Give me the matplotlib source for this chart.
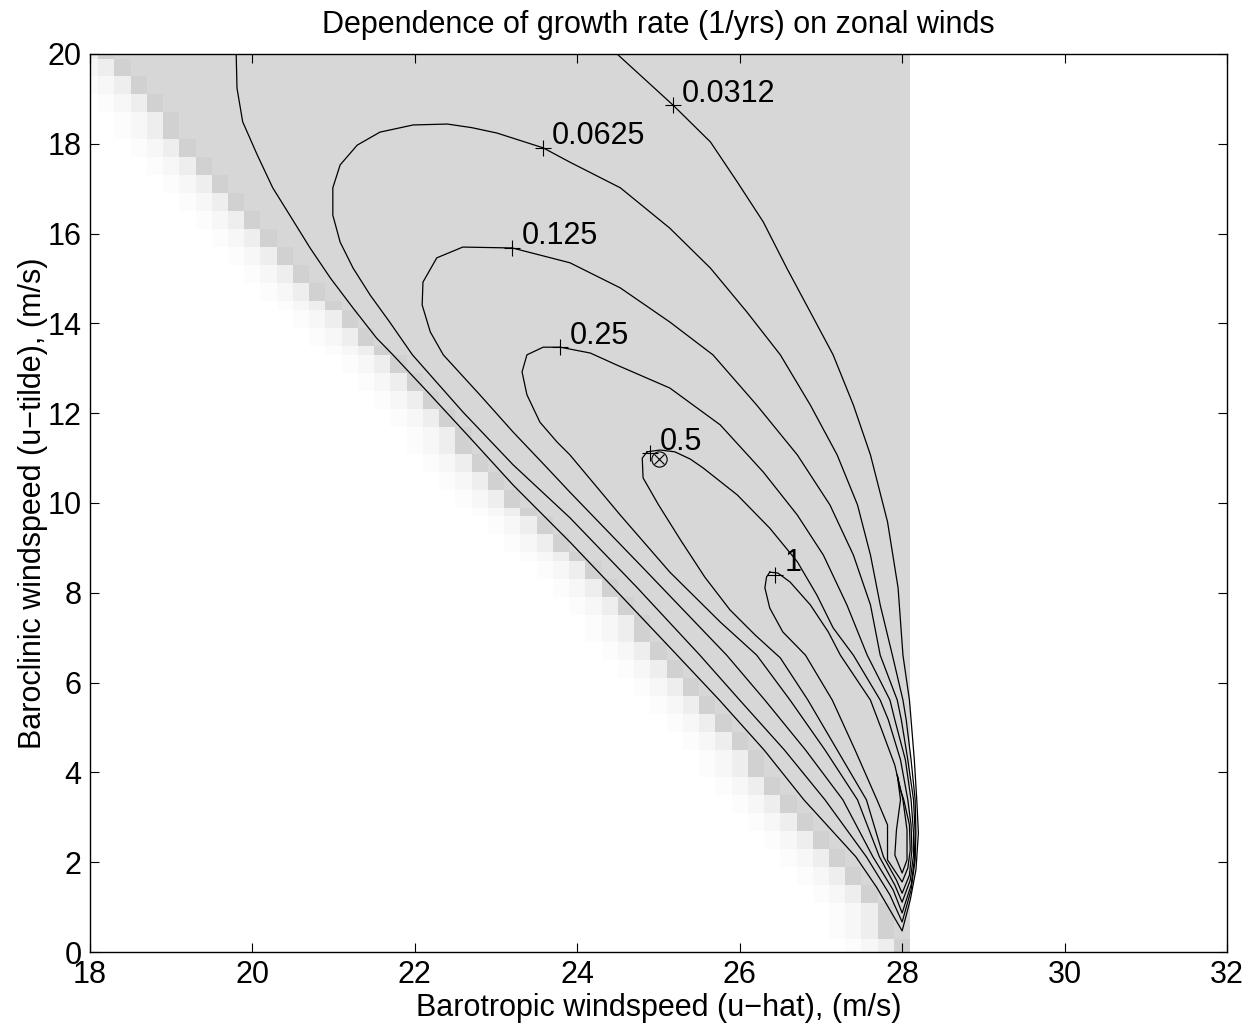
import numpy as np
import matplotlib.pyplot as plt

plt.rcParams['font.family'] = ['Liberation Sans', 'DejaVu Sans']

# contour levels (growth rate, 1/yrs) and their traced paths (u-hat, u-tilde)
levels = ['0.0312', '0.0625', '0.125', '0.25', '0.5', '1']

c0312_x = [19.80, 19.81, 19.88, 20.06, 20.25, 20.46, 20.71, 20.96, 21.24, 21.53, 21.73,
           22.19, 22.68, 23.21, 23.91, 24.53, 25.23, 25.75, 26.30, 26.79, 27.43, 27.69,
           28.00, 28.10, 28.17, 28.20, 28.18, 28.15, 28.11, 28.09, 28.01, 27.95, 27.82,
           27.61, 27.40, 27.15, 26.87, 26.58, 26.29, 25.97, 25.64, 25.18, 24.49]
c0312_y = [20.0, 19.24, 18.49, 17.75, 17.02, 16.41, 15.68, 15.01, 14.34, 13.67, 13.30,
           12.41, 11.45, 10.40, 9.13, 7.95, 6.61, 5.61, 4.50, 3.39, 2.12, 1.43,
           0.47, 1.16, 1.83, 2.65, 3.39, 4.28, 5.17, 5.61, 6.61, 8.11, 9.58,
           11.07, 12.18, 13.30, 14.25, 15.23, 16.26, 17.15, 18.04, 18.86, 20.0]

c0625_x = [23.58, 23.01, 22.70, 22.40, 21.98, 21.57, 21.29, 21.08, 20.99, 20.99, 21.08, 21.24,
           21.45, 21.69, 21.97, 22.59, 23.21, 23.91, 24.74, 25.51, 26.00, 26.55, 27.05,
           27.56, 27.85, 28.00, 28.11, 28.16, 28.17, 28.16, 28.11, 28.05, 28.01, 27.88,
           27.73, 27.61, 27.45, 27.20, 26.87, 26.50, 26.09, 25.64, 25.14, 24.53, 23.91, 23.58]
c0625_y = [17.91, 18.24, 18.36, 18.44, 18.42, 18.26, 17.97, 17.53, 17.02, 16.41, 15.81, 15.23,
           14.63, 14.03, 13.30, 12.03, 10.85, 9.67, 8.11, 6.61, 5.61, 4.50, 3.39,
           2.12, 1.27, 0.67, 1.38, 2.05, 2.65, 3.39, 4.28, 5.17, 5.61, 6.61,
           7.73, 8.84, 9.96, 11.07, 12.18, 13.30, 14.25, 15.23, 16.12, 17.02, 17.59, 17.91]

c125_x = [23.20, 22.59, 22.27, 22.10, 22.09, 22.19, 22.35, 22.80, 23.21, 23.63, 23.91,
          24.86, 25.84, 26.31, 26.81, 27.27, 27.64, 27.89, 28.00, 28.11, 28.15, 28.16,
          28.14, 28.07, 27.99, 27.94, 27.73, 27.61, 27.40, 27.11, 26.71, 26.21, 25.67,
          25.14, 24.53, 23.91, 23.20]
c125_y = [15.68, 15.70, 15.46, 14.92, 14.41, 13.81, 13.30, 12.41, 11.58, 10.78, 10.24,
          8.46, 6.61, 5.61, 4.50, 3.39, 2.12, 1.38, 0.87, 1.49, 2.05, 2.65,
          3.39, 4.28, 5.17, 5.61, 6.61, 7.73, 8.84, 9.96, 11.07, 12.18, 13.30,
          14.03, 14.79, 15.35, 15.68]

c25_x = [23.79, 23.58, 23.38, 23.32, 23.38, 23.54, 23.75, 23.91, 24.53, 25.14, 25.76,
         26.21, 26.62, 27.05, 27.45, 27.72, 27.91, 28.00, 28.10, 28.14, 28.14, 28.11,
         28.04, 27.91, 27.85, 27.57, 27.32, 27.03, 26.71, 26.29, 25.76, 25.14, 24.49,
         24.16, 23.79]
c25_y = [13.47, 13.47, 13.30, 12.92, 12.41, 11.80, 11.36, 11.07, 9.73, 8.46, 7.35,
         6.61, 5.61, 4.50, 3.39, 2.12, 1.49, 1.11, 1.60, 2.16, 2.65, 3.39,
         4.28, 5.17, 5.61, 6.61, 7.73, 8.84, 9.73, 10.69, 11.74, 12.56, 13.07,
         13.34, 13.47]

c5_x = [24.86, 24.80, 24.81, 25.00, 25.27, 25.57, 25.88, 26.19, 26.50, 26.84, 27.20,
        27.56, 27.77, 27.93, 28.00, 28.09, 28.12, 28.11, 28.07, 27.98, 27.83, 27.73,
        27.40, 27.15, 26.95, 26.71, 26.37, 25.97, 25.55, 25.39, 25.20, 25.02, 24.86]
c5_y = [11.14, 11.00, 10.56, 9.96, 9.18, 8.35, 7.62, 7.06, 6.55, 5.61, 4.50,
        3.39, 2.12, 1.60, 1.31, 1.71, 2.27, 2.83, 3.39, 4.28, 5.17, 5.61,
        6.61, 7.22, 7.95, 8.69, 9.44, 10.18, 10.78, 10.98, 11.14, 11.18, 11.14]

c1_x = [26.37, 26.33, 26.31, 26.37, 26.53, 26.81, 27.14, 27.42, 27.69, 27.82, 27.82,
        28.00, 28.07, 28.10, 28.09, 28.02, 27.98, 27.91, 27.75, 27.61, 27.24, 27.09,
        26.87, 26.62, 26.47, 26.37]
c1_y = [8.46, 8.35, 8.11, 7.66, 7.13, 6.61, 5.61, 4.50, 3.39, 2.83, 2.05,
        1.56, 1.87, 2.27, 2.83, 3.39, 3.61, 4.16, 4.94, 5.61, 6.61, 7.13,
        7.73, 8.24, 8.44, 8.46]

# unlabelled innermost piece near the bottom
c2_x = [27.94, 27.98, 27.93, 27.91, 28.00, 28.06, 28.06, 28.01, 27.94]
c2_y = [3.94, 3.39, 2.72, 2.16, 1.76, 2.05, 2.72, 3.39, 3.94]

# label points on each contour
label_x = [25.18, 23.58, 23.20, 23.79, 24.90, 26.44]
label_y = [18.86, 17.91, 15.68, 13.47, 11.11, 8.40]

# maximum marker
max_x, max_y = 25.0, 10.98

# left edge of the unstable (shaded) region, and its right cut-off
edge_y = [20.0, 19.0, 17.9, 17.2, 16.4, 15.6, 14.7, 14.1, 13.4, 12.3, 11.4, 10.6,
          9.8, 9.1, 7.8, 6.7, 5.6, 4.8, 3.7, 2.9, 2.2, 1.4, 0.7, 0.0]
edge_x = [18.1, 18.7, 19.1, 19.5, 19.9, 20.3, 20.7, 21.1, 21.5, 22.1, 22.5, 22.9,
          23.3, 23.7, 24.5, 24.9, 25.5, 25.9, 26.3, 26.7, 27.1, 27.5, 27.7, 27.9]
right_cut = 28.1

grid_x = np.round(np.arange(18, 32.001, 0.2), 2)
grid_y = np.round(np.arange(0, 20.001, 0.2), 2)

gray_in = 0.84
gray_edge = 0.82
fringe = [0.93, 0.965, 0.985]

img = np.ones((len(grid_y), len(grid_x)))
for j, yy in enumerate(grid_y):
    e = np.interp(yy, edge_y[::-1], edge_x[::-1])
    inside = (grid_x >= e - 1e-9) & (grid_x < right_cut)
    if not inside.any():
        continue
    img[j, inside] = gray_in
    first = np.argmax(inside)
    img[j, first] = gray_edge
    for k, s in enumerate(fringe):
        if first - 1 - k >= 0:
            img[j, first - 1 - k] = s

fig = plt.figure(figsize=(12.55, 10.32), dpi=100)
ax = fig.add_axes([90/1255, 1 - 952/1032, (1227 - 90)/1255, (952 - 54)/1032])

ax.imshow(img, cmap='gray', vmin=0, vmax=1, origin='lower', interpolation='nearest',
          extent=[17.9, 32.1, -0.1, 20.1], aspect='auto')

paths = [(c0312_x, c0312_y), (c0625_x, c0625_y), (c125_x, c125_y),
         (c25_x, c25_y), (c5_x, c5_y), (c1_x, c1_y), (c2_x, c2_y)]
for px, py in paths:
    ax.plot(px, py, color='k', lw=0.9)

for lab, lx, ly in zip(levels, label_x, label_y):
    ax.plot(lx, ly, '+', color='k', ms=11, mew=0.8)
    ax.annotate(lab, (lx, ly), xytext=(6.5, 2.5), textcoords='offset points',
                fontsize=22, ha='left', va='baseline')

ax.plot(max_x, max_y, 'o', mfc='none', mec='k', ms=11, mew=0.8)
ax.plot(max_x, max_y, 'x', color='k', ms=7.5, mew=0.8)

ax.set_xlim(18, 32)
ax.set_ylim(0, 20)
ax.set_xticks(range(18, 33, 2))
ax.set_yticks(range(0, 21, 2))
ax.tick_params(direction='in', top=True, right=True, length=6.5, width=0.8,
               labelsize=22, pad=6)
for s in ax.spines.values():
    s.set_linewidth(1.0)

ax.set_title('Dependence of growth rate (1/yrs) on zonal winds', fontsize=22, pad=15)
ax.set_xlabel('Barotropic windspeed (u\u2212hat), (m/s)', fontsize=22, labelpad=2)
ax.set_ylabel('Baroclinic windspeed (u\u2212tilde), (m/s)', fontsize=22, labelpad=0)

fig.savefig('out.png', dpi=100)
